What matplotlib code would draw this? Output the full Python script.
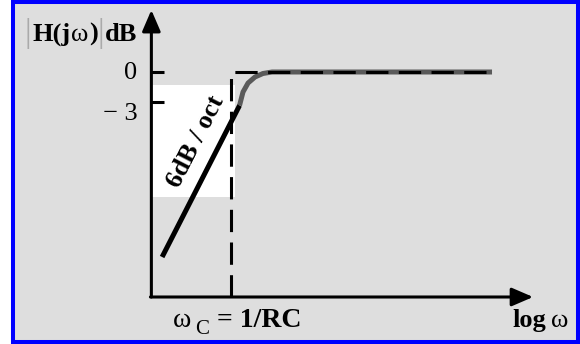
import matplotlib.pyplot as plt
from matplotlib.patches import Rectangle

# x in octaves relative to wc, y in dB
tick_values = [0, -3]
tick_labels = ['0', '\u2212 3']

# straight 6 dB/oct asymptote (black)
asym_oct = [-2.18, 0.27]
asym_db = [-18.5, -3.35]

# actual response bending into 0 dB (grey)
curve_oct = [0.27, 0.38, 0.54, 0.76, 1.01, 1.30, 8.26]
curve_db = [-3.35, -2.0, -1.1, -0.5, -0.15, 0.0, 0.0]

# ideal dashed corner at wc
ideal_oct = [0.0, 0.0, 8.26]
ideal_db = [-22.5, 0.0, 0.0]

# axis extents
y_axis_x = -2.52
x_axis_y = -22.5
y_axis_top = 6.2
x_axis_end = 9.56

plt.rcParams['font.family'] = ['Liberation Serif', 'DejaVu Serif']

fig = plt.figure(figsize=(5.8, 3.44), dpi=100)
W, H = 580, 344

ax = fig.add_axes([0, 0, 1, 1])
ax.set_facecolor('none')
ax.set_xlim(-231 / 31.6, (580 - 231) / 31.6)
ax.set_ylim(-27.2, 7.2)
ax.axis('off')

# grey panel with blue border
ax.add_patch(Rectangle((13 / W, 2 / H), 565 / W, 340 / H, transform=fig.transFigure,
                       facecolor='#dedede', edgecolor='#0000ff', lw=2.9, zorder=0,
                       clip_on=False))

# white box behind the slope label
ax.add_patch(Rectangle((y_axis_x, -12.5), 0.13 - y_axis_x, 11.2, facecolor='white',
                       edgecolor='none', zorder=1))

# axes with arrows
arrow = dict(arrowstyle='-|>,head_length=0.65,head_width=0.28', lw=2.2, color='black',
             shrinkA=0, shrinkB=0, mutation_scale=20)
ax.annotate('', xy=(y_axis_x, y_axis_top), xytext=(y_axis_x, x_axis_y), arrowprops=arrow, zorder=3)
ax.annotate('', xy=(x_axis_end, x_axis_y), xytext=(y_axis_x - 0.03, x_axis_y), arrowprops=arrow, zorder=3)

# tick marks and labels
ax.hlines(tick_values, y_axis_x, -2.12, colors='black', lw=2.2, zorder=3)
ax.text(-2.97, tick_values[0] - 0.1, tick_labels[0], fontsize=19, ha='right', va='center')
ax.text(-2.97, tick_values[1] - 1.15, tick_labels[1], fontsize=19, ha='right', va='center')

# curves
ax.plot(curve_oct, curve_db, color='#5a5a5a', lw=3.6, solid_capstyle='butt', zorder=2)
ax.plot(ideal_oct, ideal_db, color='black', lw=2.2, dashes=(7.3, 3.4), zorder=3)
ax.plot(asym_oct, asym_db, color='black', lw=3.6, solid_capstyle='butt', zorder=4)

ax.text(-1.11, -7.0, '6dB / oct', fontsize=19, fontweight='bold', rotation=63,
        rotation_mode='anchor', ha='center', va='center', zorder=5)

# y label |H(jw)|dB
t = ax.text(-6.52, 3.0, '|', fontsize=24, color='#aaaaaa', va='baseline')
t = ax.annotate('H(j', xy=(1, 0), xycoords=t, xytext=(0.5, 2), textcoords='offset points',
                fontsize=19, fontweight='bold', va='bottom')
t = ax.annotate('\u03c9', xy=(1, 0), xycoords=t, xytext=(0.5, 0), textcoords='offset points',
                fontsize=19, va='bottom')
t = ax.annotate(')', xy=(1, 0), xycoords=t, xytext=(0.5, 0), textcoords='offset points',
                fontsize=19, fontweight='bold', va='bottom')
t = ax.annotate('|', xy=(1, 0), xycoords=t, xytext=(0, -2), textcoords='offset points',
                fontsize=24, color='#aaaaaa', va='bottom')
ax.annotate('dB', xy=(1, 0), xycoords=t, xytext=(0, 2), textcoords='offset points',
            fontsize=19, fontweight='bold', va='bottom')

# x labels
t = ax.text(-1.84, -25.5, '\u03c9', fontsize=20, va='baseline')
t = ax.annotate('C', xy=(1, 0), xycoords=t, xytext=(3, -4), textcoords='offset points',
                fontsize=15, va='bottom')
ax.annotate('= 1/RC', xy=(1, 0), xycoords=t, xytext=(6, 4), textcoords='offset points',
            fontsize=20, fontweight='bold', va='bottom')

t = ax.text(8.92, -25.5, 'log', fontsize=19, fontweight='bold', va='baseline')
ax.annotate('\u03c9', xy=(1, 0), xycoords=t, xytext=(3, 0), textcoords='offset points',
            fontsize=19, va='bottom')

fig.savefig('out.png', dpi=100)
